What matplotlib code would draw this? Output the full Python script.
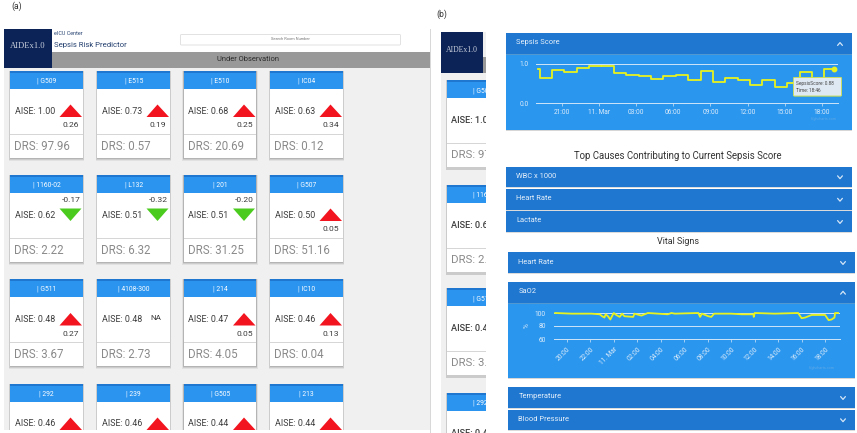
import numpy as np
import matplotlib
matplotlib.use("Agg")
import matplotlib.pyplot as plt
from matplotlib.patches import Rectangle, Polygon, FancyBboxPatch

plt.rcParams['font.family'] = ['Roboto', 'DejaVu Sans']

# ---------- data ----------
rooms = ["| G509", "| E515", "| E510", "| IC04",
         "| 1160-02", "| L132", "| 201", "| G507",
         "| G511", "| 4108-300", "| 214", "| IC10",
         "| 292", "| 239", "| G505", "| 213"]
aise = ["1.00", "0.73", "0.68", "0.63",
        "0.62", "0.51", "0.51", "0.50",
        "0.48", "0.48", "0.47", "0.46",
        "0.46", "0.46", "0.44", "0.44"]
deltas = ["0.26", "0.19", "0.25", "0.34",
          "-0.17", "-0.32", "-0.20", "0.05",
          "0.27", "NA", "0.05", "0.13",
          "", "", "", ""]
drs = ["97.96", "0.57", "20.69", "0.12",
       "2.22", "6.32", "31.25", "51.16",
       "3.67", "2.73", "4.05", "0.04",
       "", "", "", ""]
right_rooms = ["| G509", "| 1160-02", "| G511", "| 292"]
right_aise = ["1.00", "0.62", "0.48", "0.46"]
right_drs = ["97.96", "2.22", "3.67", ""]

sepsis_hours = [19.1, 19.2, 20.2, 21.2, 22.2, 23.2, 24.15, 24.2, 25.2, 26.2, 27.2, 28.2, 29.2, 30.2,
                31.2, 32.2, 33.2, 34.2, 35.2, 36.2, 37.2, 38.2, 39.2, 40.2, 41.2, 42.2, 43.0]
sepsis_vals = [0.87, 0.63, 0.85, 0.80, 0.90, 0.95, np.nan, 0.95, 0.78, 0.72, 0.70, 0.61, 0.68, 0.72,
               0.58, 0.83, 0.55, 0.63, 0.59, 0.45, 0.58, 0.41, 0.52, 0.80, 0.60, 0.87, 0.87]
sepsis_ticks = [21, 24, 27, 30, 33, 36, 39, 42]
sepsis_labels = ["21:00", "11. Mar", "03:00", "06:00", "09:00", "12:00", "15:00", "18:00"]

sao2_hours = [19.0, 20.4, 22.1, 22.8, 23.0, 23.2, 23.3, 23.5, 23.7, 23.95, 24.0, 24.2, 24.5, 24.7, 24.9,
              25.65, 25.75, 26.35, 26.9, 28.6, 28.9, 29.2, 31.2, 31.35, 31.5, 32.05, 32.3, 32.55, 34.0,
              34.9, 35.9, 35.92, 36.0, 37.7, 39.7, 40.0, 40.3, 40.85, 42.0, 42.3, 42.55, 42.8, 42.85, 43.1]
sao2_vals = [100, 99, 99, 98, 95, 93, 98, 95, 90, 99, 100, 97, 94, 99, 95,
             94, 99, 96, 100, 98, 100, 99, 100, 94, 99, 95, 94, 99, 99,
             98, 98, 94, 100, 99, 100, 92, 93, 97, 97, 89, 90, 93, 100, 100]
sao2_ticks = [20, 22, 24, 26, 28, 30, 32, 34, 36, 38, 40, 42]
sao2_labels = ["20:00", "22:00", "11. Mar", "02:00", "04:00", "06:00", "08:00", "10:00",
               "12:00", "14:00", "16:00", "18:00"]

cause_titles = ["WBC x 1000", "Heart Rate", "Lactate"]
lower_titles = ["Temperature", "Blood Pressure"]

# ---------- colours ----------
NAVY = "#0c2357"
DARK_BLUE = "#1f77d0"
BODY_BLUE = "#2b96ee"
CARD_BLUE = "#2a94ef"
PAGE = "#f0f0f0"
RED = "#f2151f"
GREEN = "#4ccb1f"
YEL = "#e8f21e"
TXT = "#3c3c3c"
GREY = "#8a8a8a"

W, H = 857, 433
fig = plt.figure(figsize=(W / 100, H / 100), dpi=100, facecolor="white")
ax = fig.add_axes([0, 0, 1, 1])
ax.set_xlim(0, W)
ax.set_ylim(H, 0)
ax.axis("off")


def rect(x0, y0, x1, y1, color, z=1, alpha=1.0):
    ax.add_patch(Rectangle((x0, y0), x1 - x0, y1 - y0, facecolor=color, edgecolor="none", zorder=z, alpha=alpha))


def chevron(x, y, up, z=13):
    d = -1.4 if up else 1.4
    ax.plot([x - 2.4, x, x + 2.4], [y - d, y + d, y - d], color="#d5e6f7", lw=0.9, zorder=z,
            solid_capstyle="round")


def card(x, y, w, room, a, delta, d, scale=1.0):
    h = 87 * scale
    for off, al in ((3.0, 0.10), (2.0, 0.16), (1.0, 0.22)):
        rect(x - off * 0.5, y, x + w + off * 0.5, y + h + off, "#606060", 2, al)
    rect(x, y, x + w, y + h, "white", 2)
    hh = 18 * scale
    rect(x, y, x + w, y + hh, CARD_BLUE, 3)
    rect(x, y, x + w, y + 2 * scale, "#1f77d0", 3)
    ax.text(x + w / 2 , y + hh * 0.58, room, color="white", fontsize=4.9 * scale, ha="center", va="center", zorder=4)
    rect(x, y + 63 * scale, x + w, y + 64.3 * scale, "#d6d6d6", 3)
    ax.text(x + 4.5 * scale, y + 40.5 * scale, "AISE: " + a, color=TXT, fontsize=6.4 * scale, ha="left", va="center", zorder=4)
    if d:
        ax.text(x + 4 * scale, y + 75.5 * scale, "DRS: " + d, color=GREY, fontsize=8.3 * scale, ha="left", va="center", zorder=4)
    return h


# ---------- panel (a) ----------
ax.text(11, 6, "(a)", fontsize=6.2, color="#333333", ha="left", va="center")
rect(4, 29, 430, 430, PAGE, 1)
rect(4, 29, 430, 52, "white", 1)
rect(52, 52, 430, 68, "#999999", 2)
rect(4, 29, 52, 68, NAVY, 3)
ax.text(28, 45.5, "AIDEx1.0", color="#c9cfdc", fontsize=6.2, family="Liberation Serif", ha="center", va="center", zorder=4)
ax.text(54, 33.5, "eICU Center", color="#24406f", fontsize=3.9, ha="left", va="center", zorder=4)
ax.text(54.5, 45.5, "Sepsis Risk Predictor", color="#24406f", fontsize=5.6, ha="left", va="center", zorder=4)
ax.add_patch(FancyBboxPatch((180.5, 34.5), 220, 10.5, boxstyle="round,pad=0,rounding_size=1",
                            facecolor="white", edgecolor="#dddddd", lw=0.6, zorder=3))
ax.text(290, 39.5, "Search Room Number", color="#777777", fontsize=2.9, ha="center", va="center", zorder=4)
ax.text(248, 59.5, "Under Observation", color="#2b2b2b", fontsize=5.4, ha="center", va="center", zorder=4)

col_x = [10.5, 97.5, 184, 270.5]
row_y = [70.5, 174.5, 279, 383.5]
cw = 72.5
for i, room in enumerate(rooms):
    x = col_x[i % 4]
    y = row_y[i // 4]
    card(x, y, cw, room, aise[i], deltas[i], drs[i])
    dv = deltas[i]
    if dv == "NA":
        ax.text(x + 58.5, y + 39, "NA", color=TXT, fontsize=5.8, ha="center", va="center", zorder=4)
    elif dv.startswith("-"):
        ax.add_patch(Polygon([(x + 49, y + 34), (x + 71, y + 34), (x + 60, y + 46.5)], facecolor=GREEN, zorder=4))
        ax.text(x + 70, y + 25, dv, color=TXT, fontsize=6.1, ha="right", va="center", zorder=4)
    else:
        ax.add_patch(Polygon([(x + 49, y + 46.5), (x + 71.5, y + 46.5), (x + 60, y + 34)], facecolor=RED, zorder=4))
        if dv:
            ax.text(x + 69, y + 54.5, dv, color=TXT, fontsize=6.1, ha="right", va="center", zorder=4)
rect(0, 430.3, 431, H, "white", 5)

# ---------- panel (b) background ----------
ax.text(436, 14, "(b)", fontsize=6.2, color="#333333", ha="left", va="center", zorder=6)
rect(430.3, 29, 431.2, 433, "#d8d8d8", 6)
rect(441, 32, 486, 433, PAGE, 6)
rect(483, 57, 488, 73, "#999999", 7)
rect(441, 32, 483, 73, NAVY, 8)
ax.text(462, 49.5, "AIDEx1.0", color="#c9cfdc", fontsize=5.6, family="Liberation Serif", ha="center", va="center", zorder=9)

# left-hand cards, cut off by the white modal
for yy, r, a, d in zip([80, 185, 288, 393], right_rooms, right_aise, right_drs):
    x0 = 447
    h = 87
    rect(x0 - 1, yy, 500, yy + h + 2.5, "#777777", 7, 0.3)
    rect(x0, yy, 500, yy + h, "white", 7)
    rect(x0, yy, 500, yy + 18, CARD_BLUE, 7)
    rect(x0, yy, 500, yy + 1.8, DARK_BLUE, 7)
    rect(x0, yy + 63, 500, yy + 64.2, "#d6d6d6", 7)
    ax.text(x0 + 26, yy + 10.5, r, color="white", fontsize=4.9, ha="left", va="center", zorder=8)
    ax.text(x0 + 4.5, yy + 40.5, "AISE: " + a, color=TXT, fontsize=6.6, fontweight="medium", ha="left", va="center", zorder=8)
    if d:
        ax.text(x0 + 4, yy + 75, "DRS: " + d, color=GREY, fontsize=8.2, ha="left", va="center", zorder=8)

rect(486, 0, W, H, "white", 10)

# ---------- panel (b) modal ----------
def bar(x0, x1, y0, y1, label, up=False):
    rect(x0, y0 + 1, x1, y1 + 1.2, "#9a9a9a", 11, 0.35)
    rect(x0, y0, x1, y1, DARK_BLUE, 11)
    ax.text(x0 + 10.5, (y0 + y1) / 2 - 0.5, label, color="#e6f0fa", fontsize=5.4, ha="left", va="center", zorder=12)
    chevron(x1 - 12, (y0 + y1) / 2 + 0.5, up)


rect(506, 33, 852, 130, BODY_BLUE, 11)
rect(506, 130, 852, 131, "#9a9a9a", 11, 0.4)
bar(506, 852, 33, 54, "Sepsis Score", up=True)
ax.text(678, 156, "Top Causes Contributing to Current Sepsis Score", color="#333333", fontsize=6.9, ha="center", va="center", zorder=12)
for (y0, y1), t in zip([(166.5, 187), (189, 209.5), (211, 232)], cause_titles):
    bar(506, 852, y0, y1, t)
ax.text(678, 242, "Vital Signs", color="#333333", fontsize=6.5, ha="center", va="center", zorder=12)
bar(508, 855, 252, 273, "Heart Rate")
rect(508, 282, 855, 378, BODY_BLUE, 11)
rect(508, 378, 855, 379, "#9a9a9a", 11, 0.4)
bar(508, 855, 282, 302.5, "SaO2", up=True)
for (y0, y1), t in zip([(387, 408), (409.5, 430)], lower_titles):
    bar(508, 855, y0, y1, t)

ax.text(824, 119, "Highcharts.com", color="#5da9e6", fontsize=2.6, ha="center", va="center", zorder=12)
ax.text(822, 368, "Highcharts.com", color="#5da9e6", fontsize=2.6, ha="center", va="center", zorder=12)


def inset(x0, x1, y0, y1):
    a = fig.add_axes([x0 / W, 1 - y1 / H, (x1 - x0) / W, (y1 - y0) / H], zorder=5)
    a.patch.set_alpha(0)
    for s in ("left", "right", "top"):
        a.spines[s].set_visible(False)
    a.spines["bottom"].set_color("#cfe5f8")
    a.spines["bottom"].set_linewidth(0.7)
    a.grid(axis="y", color="#cfe5f8", lw=0.7)
    a.set_axisbelow(True)
    return a


LBL = "#dcecfa"
# Sepsis score chart
ax1 = inset(536, 838, 64, 103)
ax1.step(sepsis_hours, sepsis_vals, where="post", color=YEL, lw=1.3, clip_on=False, zorder=3)
ax1.plot([sepsis_hours[-1]], [sepsis_vals[-1]], "o", ms=3.2, color=YEL, clip_on=False, zorder=4)
ax1.set_xlim(18.9, 43.31)
ax1.set_ylim(0, 1)
ax1.set_yticks([0, 1], ["0.0", "1.0"], fontsize=4.7, color=LBL)
ax1.set_xticks(sepsis_ticks, sepsis_labels, fontsize=4.7, color=LBL)
ax1.tick_params(axis="y", length=0, pad=5)
ax1.tick_params(axis="x", length=2, width=0.5, color="#cfe5f8", pad=2)

# tooltip
ax.add_patch(FancyBboxPatch((793.5, 77.5), 48, 18.5, boxstyle="round,pad=0,rounding_size=1",
                            facecolor="#dfe9f3", edgecolor="#c6dc5a", lw=0.6, zorder=20))

# SaO2 chart
ax2 = inset(554, 840, 313, 339)
ax2.plot(sao2_hours, sao2_vals, color=YEL, lw=1.3, clip_on=False, zorder=3)
ax2.set_xlim(18.9, 43.27)
ax2.set_ylim(60, 100)
ax2.set_yticks([60, 80, 100], ["60", "80", "100"], fontsize=4.7, color=LBL)
ax2.set_xticks(sao2_ticks, sao2_labels, fontsize=4.7, color=LBL, rotation=45, ha="right", rotation_mode="anchor")
ax2.tick_params(axis="y", length=0, pad=6)
ax2.tick_params(axis="x", length=2, width=0.5, color="#cfe5f8", pad=3)
ax2.set_ylabel("%", fontsize=4.7, color=LBL, labelpad=3)

# tooltip sits above the line charts
ax3 = fig.add_axes([0, 0, 1, 1], zorder=8)
ax3.set_xlim(0, W)
ax3.set_ylim(H, 0)
ax3.axis("off")
ax3.add_patch(FancyBboxPatch((793.5, 77.5), 48, 18.5, boxstyle="round,pad=0,rounding_size=1",
                             facecolor="#dfe9f3", edgecolor="#c6dc5a", lw=0.6))
ax3.text(796.5, 83, "SepsisScore: 0.88", fontsize=3.4, color="#444444", ha="left", va="center")
ax3.text(796.5, 90, "Time: 18:46", fontsize=3.4, color="#444444", ha="left", va="center")

fig.savefig("out.png", dpi=100)
